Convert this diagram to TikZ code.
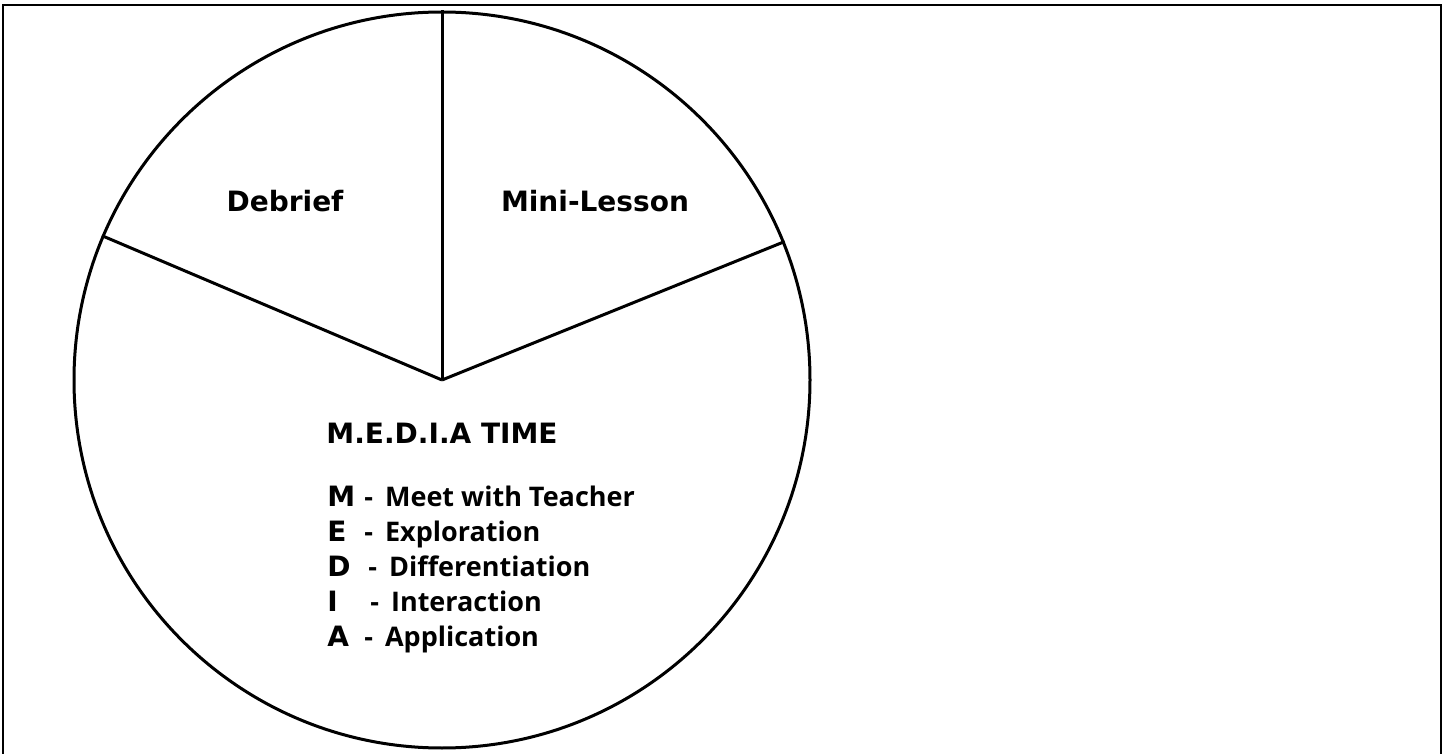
\documentclass[tikz,border=0pt]{standalone}
\usepackage{fontspec}
\setmainfont{Open Sans}
\newfontfamily\heavy{DejaVu Sans}
\usepackage{tikz}
\usetikzlibrary{positioning,calc}

\tikzset{
  label/.style={font=\fontsize{14}{17}\selectfont\heavy\bfseries},
  letter/.style={font=\fontsize{14}{17}\selectfont\heavy\bfseries, anchor=base west, inner sep=0pt},
  item/.style={font=\fontsize{13.5}{17}\selectfont\bfseries, anchor=base west, inner sep=0pt},
  spoke/.style={line width=1.5pt}
}

\begin{document}
\begin{tikzpicture}[x=0.5pt, y=-0.5pt]
  \clip (0,0) rectangle (1442,754);
  % frame, open at the bottom
  \draw[line width=1pt] (3,770) -- (3,5) -- (1441,5) -- (1441,770);
  % the wheel
  \node[circle, draw, line width=1.5pt, minimum size=368pt, inner sep=0pt]
    (wheel) at (442,380) {};
  \coordinate (hub) at (442,380);
  \draw[spoke] (hub) -- (wheel.90);
  \draw[spoke] (hub) -- (wheel.157.85);
  \draw[spoke] (hub) -- (wheel.22.15);
  % Labels
  \node[label] (debrief) at (285,201) {Debrief};
  \node[label] (minilesson) at (595,201) {Mini-Lesson};
  \node[label] (mediatitle) at (442,433) {M.E.D.I.A TIME};
  % the letters
  \foreach \ltr/\word/\y/\dx [count=\i] in {M/Meet with Teacher/507/0, E/Exploration/541/0,
      D/Differentiation/576/4, I/Interaction/611/6, A/Application/646/0} {
    \node[letter] (ltr\i) at (327,\y) {\ltr};
    \node[item] (word\i) at (364+\dx,\y) {-\hspace{6pt}\word};
  }
\end{tikzpicture}
\end{document}
